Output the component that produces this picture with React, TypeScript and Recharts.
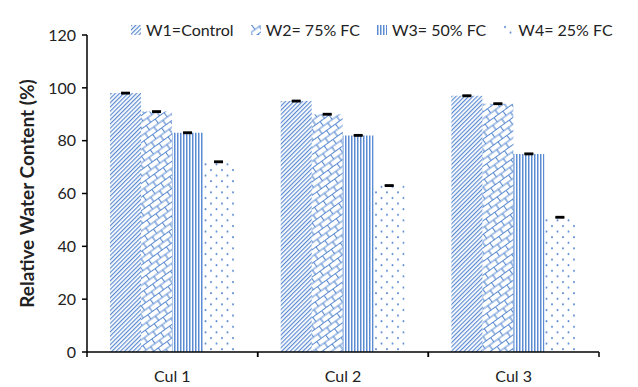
import { BarChart, Bar, XAxis, YAxis, ErrorBar, Legend } from "recharts";

const cultivars = ["Cul 1", "Cul 2", "Cul 3"];
const seriesNames = ["W1=Control", "W2= 75% FC", "W3= 50% FC", "W4= 25% FC"];
const w1Values = [98, 95, 97];
const w2Values = [91, 90, 94];
const w3Values = [83, 82, 75];
const w4Values = [72, 63, 51];
const w1Errors = [0.2, 0.2, 0.2];
const w2Errors = [0.2, 0.2, 0.2];
const w3Errors = [0.2, 0.2, 0.2];
const w4Errors = [0.2, 0.2, 0.2];
const yTicks = [0, 20, 40, 60, 80, 100, 120];

const BLUE = "#5b8bd1";
const FONT = "Lato, 'Open Sans', sans-serif";
const patternIds = ["patW1", "patW2", "patW3", "patW4"];
const keys = ["w1", "w2", "w3", "w4"];

const data = cultivars.map((name, i) => ({
  name,
  w1: w1Values[i],
  w2: w2Values[i],
  w3: w3Values[i],
  w4: w4Values[i],
  w1e: w1Errors[i],
  w2e: w2Errors[i],
  w3e: w3Errors[i],
  w4e: w4Errors[i],
}));

function Patterns() {
  return (
    <defs>
      <pattern
        id="patW1"
        patternUnits="userSpaceOnUse"
        width="3"
        height="3"
        patternTransform="rotate(45)"
      >
        <rect x="0" y="0" width="1.2" height="3" fill={BLUE} />
      </pattern>
      <pattern
        id="patW2"
        patternUnits="userSpaceOnUse"
        width="11"
        height="11"
        patternTransform="rotate(-36)"
      >
        <path
          d="M0,0.5 H11 M0,6 H11 M0.5,0.5 V6 M6,6 V11"
          stroke={BLUE}
          strokeWidth="1.2"
          fill="none"
        />
      </pattern>
      <pattern id="patW3" patternUnits="userSpaceOnUse" width="3" height="3">
        <rect x="0" y="0" width="1.5" height="3" fill={BLUE} />
      </pattern>
      <pattern id="patW4" patternUnits="userSpaceOnUse" width="11" height="11.2">
        <circle cx="2" cy="2" r="1" fill={BLUE} />
        <circle cx="7.5" cy="7.6" r="1" fill={BLUE} />
      </pattern>
    </defs>
  );
}

function CulTick(props: any) {
  const { x, y, payload } = props;
  const half = payload && payload.offset ? payload.offset : 85;
  return (
    <g>
      <line x1={x - half} x2={x - half} y1={y} y2={y + 5} stroke="#000" strokeWidth={1.5} />
      <line x1={x + half} x2={x + half} y1={y} y2={y + 5} stroke="#000" strokeWidth={1.5} />
      <text
        x={x}
        y={y + 30}
        textAnchor="middle"
        fontFamily={FONT}
        fontSize={16}
        fill="#222"
      >
        {payload.value}
      </text>
    </g>
  );
}

function LegendContent() {
  return (
    <div style={{ display: "flex", fontFamily: FONT, fontSize: 16, color: "#222" }}>
      {seriesNames.map((name, i) => (
        <div
          key={name}
          style={{ display: "flex", alignItems: "center", marginRight: 17 }}
        >
          <svg width={10} height={10} style={{ marginRight: 5 }}>
            <rect width={10} height={10} fill={`url(#${patternIds[i]})`} />
          </svg>
          <span>{name}</span>
        </div>
      ))}
    </div>
  );
}

function YLabel(props: any) {
  const vb = props.viewBox || { x: 0, y: 16, width: 87, height: 336 };
  const cy = vb.y + vb.height / 2;
  const cx = 26;
  return (
    <text
      x={cx}
      y={cy}
      transform={`rotate(-90 ${cx} ${cy})`}
      textAnchor="middle"
      dominantBaseline="central"
      fontFamily={FONT}
      fontWeight="bold"
      fontSize={19}
      fill="#222"
    >
      Relative Water Content (%)
    </text>
  );
}

export default function App() {
  return (
    <div style={{ position: "absolute", left: 0, top: 0, background: "#fff" }}>
      <BarChart
        width={638}
        height={387}
        data={data}
        margin={{ top: 16, right: 39, bottom: 0, left: 0 }}
        barCategoryGap="13.5%"
        barGap={0}
      >
        <Patterns />
        <XAxis
          dataKey="name"
          height={35}
          axisLine={{ stroke: "#000", strokeWidth: 1.5 }}
          tickLine={false}
          tickSize={0}
          tickMargin={0}
          tick={<CulTick />}
          interval={0}
        />
        <YAxis
          width={87}
          domain={[0, 120]}
          ticks={yTicks}
          interval={0}
          axisLine={{ stroke: "#000", strokeWidth: 1.5 }}
          tickLine={{ stroke: "#000", strokeWidth: 1.5 }}
          tickSize={5}
          tickMargin={6}
          tick={{ fill: "#222", fontFamily: FONT, fontSize: 16 }}
          label={{ content: <YLabel /> }}
        />
        <Legend
          verticalAlign="top"
          align="left"
          content={<LegendContent />}
          wrapperStyle={{ top: 20, left: 131, width: "auto" }}
        />
        {keys.map((k, i) => (
          <Bar
            key={k}
            dataKey={k}
            name={seriesNames[i]}
            fill={`url(#${patternIds[i]})`}
            isAnimationActive={false}
          >
            <ErrorBar dataKey={`${k}e`} width={4.5} stroke="#000" strokeWidth={1.8} />
          </Bar>
        ))}
      </BarChart>
    </div>
  );
}
